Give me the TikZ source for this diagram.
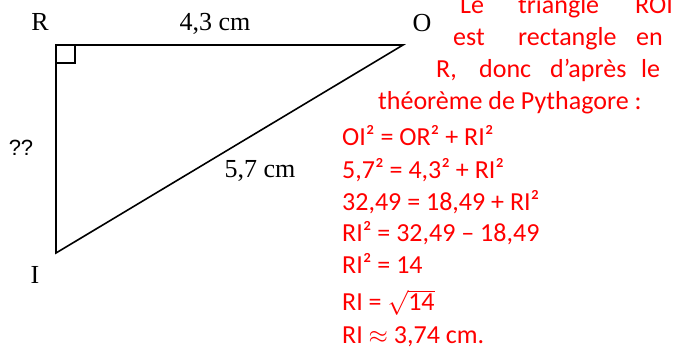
\documentclass[tikz,border=0pt]{standalone}
\usepackage{fontspec}
\setmainfont{Liberation Serif}
\newfontfamily\redfont{Carlito}
\newfontfamily\qfont{Liberation Sans}
\begin{document}
\begin{tikzpicture}[x=1pt,y=-1pt,
  lbl/.style={font=\fontsize{26}{30}\selectfont, inner sep=0pt, anchor=base},
  rtxt/.style={font=\redfont\fontsize{26}{30}\selectfont, text=red, inner sep=0pt, anchor=base west},
  side/.style={line width=1.6pt, line join=miter}]
\useasboundingbox (0,0) rectangle (675,349);
\clip (0,0) rectangle (675,349);
\coordinate (R) at (56,45);
\coordinate (O) at (403,45);
\coordinate (I) at (56,253);
\draw[side] (R) -- (O) -- (I) -- cycle;
\draw[line width=1.2pt] (56,63) -- (75,63) -- (75,45);
\node[lbl] (lR) at (40,30) {R};
\node[lbl] (lO) at (422,31) {O};
\node[lbl] (lI) at (35,283) {I};
\node[lbl] (lRO) at (215,30) {4,3 cm};
\node[lbl] (lOI) at (260,177) {5,7 cm};
\node[inner sep=0pt, anchor=base, font=\qfont\fontsize{22}{24}\selectfont] (lRI) at (21,155) {??};
% justified paragraph lines
\node[rtxt] (w1) at (460,13) {Le};
\node[rtxt] (w2) at (518,13) {triangle};
\node[rtxt] (w3) at (635,13) {ROI};
\node[rtxt] (w4) at (453,45) {est};
\node[rtxt] (w5) at (518,45) {rectangle};
\node[rtxt] (w6) at (636,45) {en};
\node[rtxt] (w7) at (436,77) {R,};
\node[rtxt] (w8) at (479,77) {donc};
\node[rtxt] (w9) at (550,77) {d’après};
\node[rtxt] (w10) at (641,77) {le};
\node[rtxt] (t4) at (378,109) {théorème de Pythagore :};
\node[rtxt] (e1) at (342,145) {OI² = OR² + RI²};
\node[rtxt] (e2) at (342,178) {5,7² = 4,3² + RI²};
\node[rtxt] (e3) at (342,210) {32,49 = 18,49 + RI²};
\node[rtxt] (e4) at (342,241) {RI² = 32,49 – 18,49};
\node[rtxt] (e5) at (342,273) {RI² = 14};
\node[rtxt] (e6) at (342,310) {RI = $\sqrt{\mbox{14}\vphantom{g}}$};
\node[rtxt] (e7) at (342,343) {RI $\approx$ 3,74 cm.};
\end{tikzpicture}
\end{document}
